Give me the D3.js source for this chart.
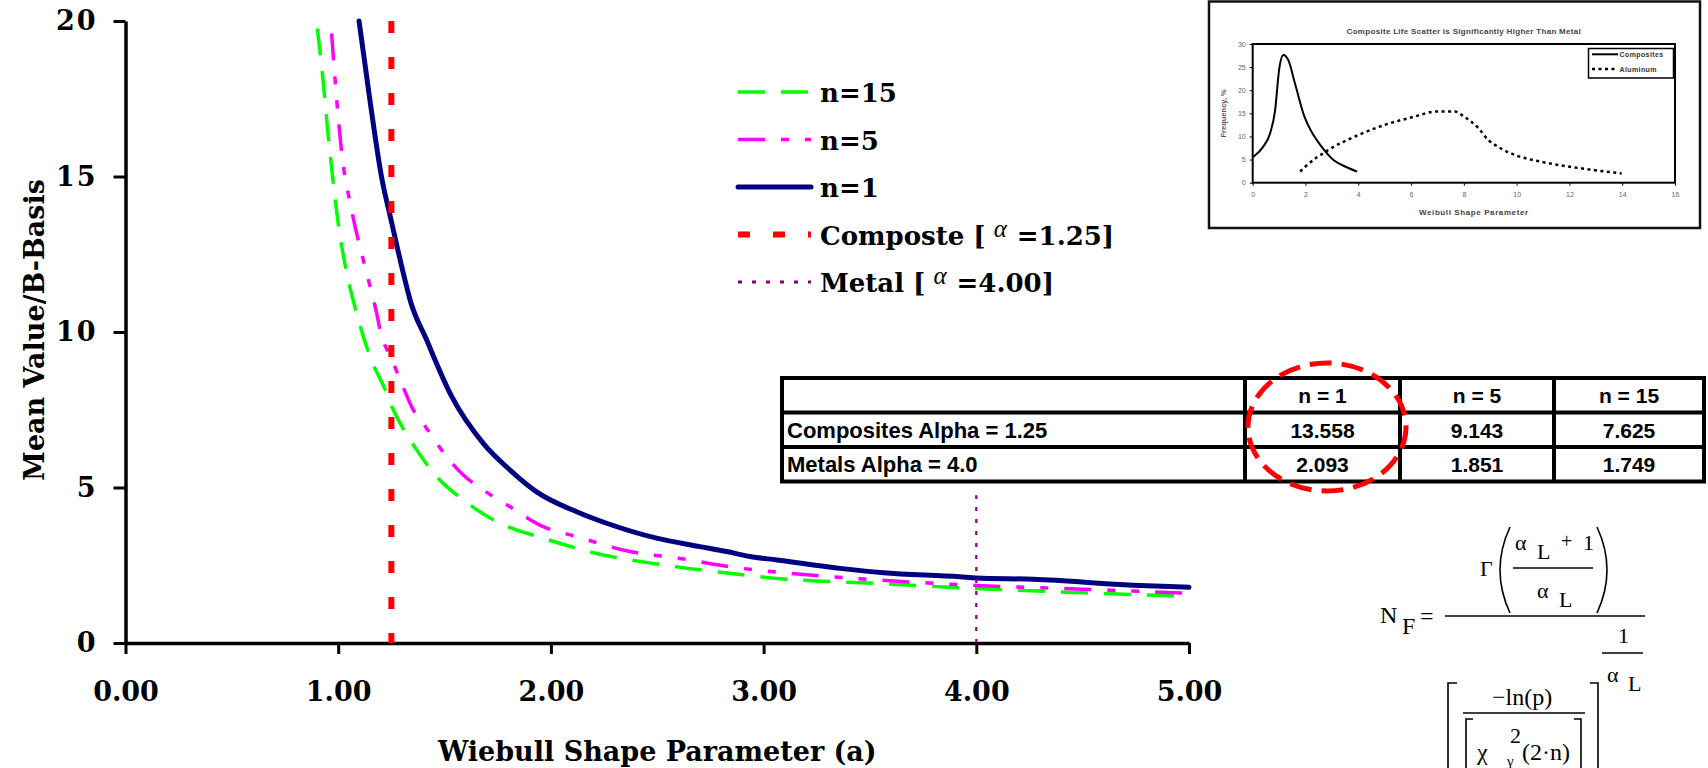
<!DOCTYPE html>
<html><head><meta charset="utf-8">
<script src="https://cdn.jsdelivr.net/npm/d3@7"></script>
<style>
html,body{margin:0;padding:0;background:#fff;}
svg{display:block;}
</style></head><body>
<svg id="chart" width="1708" height="768"></svg>
<script>
// ---------------- data ----------------
const xTickValues = [0, 1, 2, 3, 4, 5];
const yTickValues = [0, 5, 10, 15, 20];

const alphaN1 = [1.098, 1.149, 1.204, 1.25, 1.314, 1.338, 1.416, 1.534, 1.682, 1.808, 1.933, 2.121, 2.262, 2.497, 2.701, 2.826, 2.936, 3.062, 3.359, 3.563, 3.923, 4.0, 4.267, 4.737, 5.0];
const meanN1  = [20.0, 17.46, 14.98, 13.56, 11.67, 11.03, 9.74, 7.92, 6.42, 5.56, 4.86, 4.22, 3.85, 3.37, 3.10, 2.94, 2.78, 2.67, 2.40, 2.26, 2.13, 2.09, 2.05, 1.86, 1.79];

const alphaN5 = [0.969, 0.993, 1.016, 1.063, 1.126, 1.181, 1.197, 1.251, 1.298, 1.345, 1.416, 1.51, 1.588, 1.682, 1.808, 1.964, 2.121, 2.372, 2.607, 2.842, 3.09, 3.53, 4.0, 4.5, 5.0];
const meanN5  = [19.6, 17.46, 15.8, 13.92, 12.1, 10.6, 10.06, 9.14, 8.35, 7.6, 6.9, 5.99, 5.4, 4.92, 4.38, 3.74, 3.42, 2.94, 2.72, 2.45, 2.26, 2.03, 1.85, 1.73, 1.60];

const alphaN15 = [0.902, 0.93, 0.949, 0.972, 1.0, 1.037, 1.087, 1.15, 1.228, 1.25, 1.275, 1.369, 1.463, 1.588, 1.745, 1.964, 2.215, 2.528, 2.842, 3.093, 3.516, 4.0, 4.487, 5.0];
const meanN15  = [19.76, 18.0, 16.6, 15.1, 13.5, 12.0, 10.6, 9.2, 8.03, 7.63, 7.28, 6.21, 5.35, 4.6, 3.9, 3.37, 2.88, 2.51, 2.24, 2.06, 1.92, 1.75, 1.62, 1.50];

const compositeAlpha = 1.25;
const metalAlpha = 4.0;
const metalLineTop = 4.75;

const legendLabels = ["n=15", "n=5", "n=1", "Composte [", "Metal ["];
const legendTails  = ["", "", "", "=1.25]", "=4.00]"];

const tableHeader = ["", "n = 1", "n = 5", "n = 15"];
const tableRowLabels = ["Composites Alpha = 1.25", "Metals Alpha = 4.0"];
const compositesValues = ["13.558", "9.143", "7.625"];
const metalsValues = ["2.093", "1.851", "1.749"];

// inset chart
const insetTitle = "Composite Life Scatter is Significantly Higher Than Metal";
const insetXTicks = [0, 2, 4, 6, 8, 10, 12, 14, 16];
const insetYTicks = [0, 5, 10, 15, 20, 25, 30];
const compShape = [0.03, 0.4, 0.66, 0.85, 1.0, 1.16, 1.35, 1.6, 1.96, 2.23, 2.61, 3.06, 3.5, 3.96];
const compFreq  = [5.6, 7.8, 10.7, 15.7, 24.4, 27.6, 26.5, 21.5, 14.3, 11.0, 7.8, 4.9, 3.5, 2.4];
const alumShape = [1.8, 2.0, 2.87, 4.0, 5.0, 6.0, 7.0, 7.66, 8.0, 8.55, 8.93, 9.2, 9.94, 10.95, 11.96, 12.97, 13.98];
const alumFreq  = [2.4, 3.5, 7.1, 10.3, 12.5, 14.1, 15.4, 15.4, 14.3, 11.8, 9.2, 8.1, 6.0, 4.5, 3.5, 2.7, 2.0];
const insetLegend = ["Composites", "Aluminum"];

// ---------------- drawing ----------------
const svg = d3.select("#chart");
svg.append("rect").attr("width", 1708).attr("height", 768).attr("fill", "#fff");

const SLAB = "'DejaVu Serif', serif";
const SANS = "'Liberation Sans', Arial, sans-serif";
const TIMES = "'Liberation Serif', 'Times New Roman', serif";

const x = d3.scaleLinear().domain([0, 5]).range([125.5, 1189]);
const y = d3.scaleLinear().domain([0, 20]).range([643, 21]);

// axes
const gx = svg.append("g").attr("transform", `translate(0,${y(0)})`)
  .call(d3.axisBottom(x).tickValues(xTickValues).tickFormat(d3.format(".2f"))
    .tickSizeInner(11).tickSizeOuter(0).tickPadding(28));
const gy = svg.append("g").attr("transform", `translate(${x(0)},0)`)
  .call(d3.axisLeft(y).tickValues(yTickValues).tickFormat(d3.format("d"))
    .tickSizeInner(12).tickSizeOuter(0).tickPadding(16));
[gx, gy].forEach(g => {
  g.select(".domain").attr("stroke", "#000").attr("stroke-width", 3.5);
  g.selectAll(".tick line").attr("stroke", "#000").attr("stroke-width", 3);
  g.selectAll(".tick text").attr("fill", "#000")
    .style("font-family", SLAB).style("font-weight", "bold").style("font-size", "27px");
});
gy.selectAll(".tick text").style("letter-spacing", "2px");

// axis titles
svg.append("text").attr("x", (x(0) + x(5)) / 2).attr("y", 761)
  .attr("text-anchor", "middle").style("font-family", SLAB).style("font-weight", "bold")
  .style("font-size", "27px").text("Wiebull Shape Parameter (a)");
svg.append("text").attr("transform", "translate(44,330) rotate(-90)")
  .attr("text-anchor", "middle").style("font-family", SLAB).style("font-weight", "bold")
  .style("font-size", "27px").text("Mean Value/B-Basis");

// curves
const line = d3.line().x(d => x(d[0])).y(d => y(d[1])).curve(d3.curveMonotoneX);
const series = [
  {xs: alphaN15, ys: meanN15, color: "#00ff00", w: 3.5, dash: "27,16", cap: "butt"},
  {xs: alphaN5, ys: meanN5, color: "#ff00ff", w: 3.5, dash: "27,16,8,16,8,16", cap: "butt"},
  {xs: alphaN1, ys: meanN1, color: "#000080", w: 5, dash: null, cap: "round"}
];
series.forEach(s => {
  svg.append("path").datum(d3.zip(s.xs, s.ys)).attr("d", line)
    .attr("fill", "none").attr("stroke", s.color).attr("stroke-width", s.w)
    .attr("stroke-dasharray", s.dash).attr("stroke-linecap", s.cap).attr("stroke-linejoin", "round");
});

// reference lines
svg.append("line").attr("x1", x(compositeAlpha)).attr("x2", x(compositeAlpha))
  .attr("y1", y(20)).attr("y2", y(0)).attr("stroke", "#ff0000").attr("stroke-width", 6)
  .attr("stroke-dasharray", "12,24");
svg.append("line").attr("x1", x(metalAlpha)).attr("x2", x(metalAlpha))
  .attr("y1", y(0)).attr("y2", y(metalLineTop)).attr("stroke", "#800080").attr("stroke-width", 2.2)
  .attr("stroke-dasharray", "4,8");

// legend
const legendStyles = [
  {color: "#00ff00", w: 3.5, dash: "27,16", cap: "butt"},
  {color: "#ff00ff", w: 3.5, dash: "27,16,8,16,8,16", cap: "butt"},
  {color: "#000080", w: 5, dash: null, cap: "round"},
  {color: "#ff0000", w: 6, dash: "12,23", cap: "butt"},
  {color: "#800080", w: 3, dash: "4,10", cap: "butt"}
];
const legendY = d3.scalePoint().domain(d3.range(legendLabels.length)).range([92, 282]);
legendLabels.forEach((lab, i) => {
  const ly = legendY(i);
  const st = legendStyles[i];
  svg.append("line").attr("x1", 738).attr("x2", 811).attr("y1", ly).attr("y2", ly)
    .attr("stroke", st.color).attr("stroke-width", st.w).attr("stroke-dasharray", st.dash)
    .attr("stroke-linecap", st.cap);
  const t = svg.append("text").attr("x", 820).attr("y", ly + 10)
    .style("font-family", SLAB).style("font-weight", "bold").style("font-size", "26px").attr("fill", "#000");
  t.append("tspan").text(lab);
  if (legendTails[i]) {
    t.append("tspan").attr("dx", 8).attr("dy", -8).style("font-family", TIMES).style("font-weight", "normal")
      .style("font-style", "italic").style("font-size", "25px").text("α");
    t.append("tspan").attr("dx", 10).attr("dy", 8).text(legendTails[i]);
  }
});

// table
const colEdges = [782, 1245, 1400, 1554, 1704];
const rowEdges = [378, 412.5, 447, 481.5];
const tableG = svg.append("g");
tableG.append("rect").attr("x", colEdges[0]).attr("y", rowEdges[0])
  .attr("width", colEdges[4] - colEdges[0]).attr("height", rowEdges[3] - rowEdges[0])
  .attr("fill", "#fff");
const tableData = [tableHeader, [tableRowLabels[0], ...compositesValues], [tableRowLabels[1], ...metalsValues]];
tableData.forEach((row, r) => {
  row.forEach((cell, c) => {
    if (!cell) return;
    const cx = c === 0 ? colEdges[0] + 5 : (colEdges[c] + colEdges[c + 1]) / 2;
    tableG.append("text").attr("x", cx).attr("y", (rowEdges[r] + rowEdges[r + 1]) / 2 + 8)
      .attr("text-anchor", c === 0 ? "start" : "middle")
      .style("font-family", SANS).style("font-weight", "bold")
      .style("font-size", c === 0 ? "22px" : "21px").attr("fill", "#000").text(cell);
  });
});
rowEdges.forEach(ry => tableG.append("line").attr("x1", colEdges[0] - 2).attr("x2", colEdges[4] + 2)
  .attr("y1", ry).attr("y2", ry).attr("stroke", "#000").attr("stroke-width", 4));
colEdges.forEach(cx => tableG.append("line").attr("x1", cx).attr("x2", cx)
  .attr("y1", rowEdges[0]).attr("y2", rowEdges[3]).attr("stroke", "#000").attr("stroke-width", 4));

// red dashed ellipse
svg.append("ellipse").attr("cx", 1327).attr("cy", 427).attr("rx", 79).attr("ry", 64)
  .attr("fill", "none").attr("stroke", "#ff0000").attr("stroke-width", 5).attr("stroke-dasharray", "22,10");

// ---------------- inset ----------------
const ig = svg.append("g");
ig.append("rect").attr("x", 1209).attr("y", 1.5).attr("width", 491).attr("height", 226.5)
  .attr("fill", "#fff").attr("stroke", "#111").attr("stroke-width", 2.5);
const ix = d3.scaleLinear().domain([0, 16]).range([1252.7, 1675]);
const iy = d3.scaleLinear().domain([0, 30]).range([182.7, 44]);
ig.append("text").attr("x", (ix(0) + ix(16)) / 2).attr("y", 33.5).attr("text-anchor", "middle")
  .style("font-family", SANS).style("font-weight", "bold").style("font-size", "8px")
  .style("letter-spacing", "0.3px").attr("fill", "#444").text(insetTitle);
const igx = ig.append("g").attr("transform", `translate(0,${iy(0)})`)
  .call(d3.axisBottom(ix).tickValues(insetXTicks).tickSize(3).tickPadding(6));
const igy = ig.append("g").attr("transform", `translate(${ix(0)},0)`)
  .call(d3.axisLeft(iy).tickValues(insetYTicks).tickSize(3).tickPadding(4));
[igx, igy].forEach(g => {
  g.select(".domain").remove();
  g.selectAll(".tick line").attr("stroke", "#000").attr("stroke-width", 1);
  g.selectAll(".tick text").attr("fill", "#666").style("font-family", SANS).style("font-size", "7px");
});
ig.append("rect").attr("x", ix(0)).attr("y", iy(30)).attr("width", ix(16) - ix(0)).attr("height", iy(0) - iy(30))
  .attr("fill", "none").attr("stroke", "#000").attr("stroke-width", 2);
ig.append("text").attr("x", (ix(0) + ix(16)) / 2 + 10).attr("y", 214.5).attr("text-anchor", "middle")
  .style("font-family", SANS).style("font-weight", "bold").style("font-size", "8px")
  .style("letter-spacing", "0.6px").attr("fill", "#444").text("Weibull Shape Parameter");
ig.append("text").attr("transform", `translate(1225.5,${(iy(0) + iy(30)) / 2}) rotate(-90)`).attr("text-anchor", "middle")
  .style("font-family", SANS).style("font-weight", "bold").style("font-size", "7.5px")
  .attr("fill", "#555").text("Frequency, %");
const iline = d3.line().x(d => ix(d[0])).y(d => iy(d[1])).curve(d3.curveMonotoneX);
ig.append("path").datum(d3.zip(compShape, compFreq)).attr("d", iline).attr("fill", "none")
  .attr("stroke", "#000").attr("stroke-width", 2);
ig.append("path").datum(d3.zip(alumShape, alumFreq)).attr("d", iline).attr("fill", "none")
  .attr("stroke", "#000").attr("stroke-width", 2.5).attr("stroke-dasharray", "3,3.5");
ig.append("rect").attr("x", 1588.5).attr("y", 48.5).attr("width", 85).attr("height", 29.5)
  .attr("fill", "#fff").attr("stroke", "#000").attr("stroke-width", 1.5);
insetLegend.forEach((lab, i) => {
  const ly = 54.3 + i * 14.7;
  ig.append("line").attr("x1", 1592).attr("x2", 1618).attr("y1", ly).attr("y2", ly)
    .attr("stroke", "#000").attr("stroke-width", i === 0 ? 2 : 2.5).attr("stroke-dasharray", i === 0 ? null : "3,3.5");
  ig.append("text").attr("x", 1619.5).attr("y", ly + 2.5).style("font-family", SANS).style("font-weight", "bold")
    .style("font-size", "7px").style("letter-spacing", "0.4px").attr("fill", "#333").text(lab);
});

// ---------------- formula ----------------
const fg = svg.append("g").attr("fill", "#000").style("font-family", TIMES);
const pieces = [
  ["N", 1380, 623, 24], ["F", 1402, 634, 24], ["=", 1420, 624, 24],
  ["Γ", 1480, 576, 22],
  ["α", 1515, 550, 22], ["L", 1537, 559, 22], ["+", 1561, 548, 20], ["1", 1583, 550, 22],
  ["α", 1537, 598, 22], ["L", 1559, 607, 22],
  ["1", 1618, 643, 22], ["α", 1607, 682, 22], ["L", 1628, 691, 22],
  ["−ln(p)", 1492, 705, 24],
  ["χ", 1477, 760, 24], ["γ", 1507, 766, 15], ["2", 1510, 743, 22], ["(2·n)", 1522, 760, 24]
];
pieces.forEach(p => fg.append("text").attr("x", p[1]).attr("y", p[2]).style("font-size", p[3] + "px").text(p[0]));
const strokes = [
  "M1445,616H1645", "M1513,568H1593", "M1602,653H1643", "M1463,713H1585",
  "M1510,527Q1490,570 1510,613", "M1597,527Q1617,570 1597,613",
  "M1457,683H1448V770", "M1590,683H1598V770",
  "M1473,719H1466V770", "M1574,719H1581V770"
];
strokes.forEach(d => fg.append("path").attr("d", d).attr("fill", "none").attr("stroke", "#000").attr("stroke-width", 1.6));
</script>
</body></html>
